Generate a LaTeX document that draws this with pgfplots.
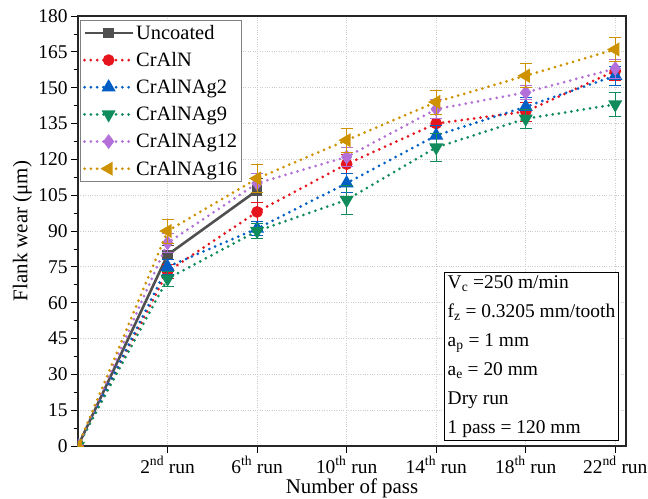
\documentclass[border=0pt]{standalone}
\usepackage{pgfplots}
\pgfplotsset{compat=1.18}
\usepackage{fontspec}
\setmainfont{Liberation Serif}
\definecolor{cunc}{RGB}{80,80,80}
\definecolor{ccraln}{RGB}{230,20,28}
\definecolor{cag2}{RGB}{0,94,196}
\definecolor{cag9}{RGB}{16,140,92}
\definecolor{cag12}{RGB}{178,112,216}
\definecolor{cag16}{RGB}{206,146,0}
\begin{document}
\begin{tikzpicture}
\begin{axis}[
  scale only axis, width=548bp, height=430bp,
  xmin=0, xmax=6.12, ymin=0, ymax=180,
  clip mode=individual, clip marker paths=true,
  xtick={1,2,3,4,5,6},
  xticklabels={2\textsuperscript{nd} run,6\textsuperscript{th} run,10\textsuperscript{th} run,14\textsuperscript{th} run,18\textsuperscript{th} run,22\textsuperscript{nd} run},
  ytick={0,15,...,180},
  minor y tick num=1,
  tick align=outside, tick pos=left,
  major tick length=7bp, minor tick length=4bp,
  every tick/.style={black, line width=0.8pt},
  /pgf/number format/assume math mode=true,
  ticklabel style={font=\fontsize{19.5}{21}\selectfont},
  label style={font=\fontsize{21}{23}\selectfont},
  xlabel={Number of pass}, ylabel={Flank wear (μm)},
  xlabel style={at={(axis description cs:0.5,-0.0977)}, anchor=center},
  ylabel style={at={(axis description cs:-0.1016,0.5)}, anchor=center},
  grid=major, major grid style={dotted, gray!40, line width=0.7pt},
  axis line style={black!85, line width=1.1pt},
  legend cell align=left,
  legend style={font=\fontsize{20.5}{22}\selectfont, draw=gray, line width=0.7pt, at={(0.004,0.99)}, anchor=north west, row sep=7.5bp, inner sep=2.5bp},
  legend image code/.code={\draw[mark repeat=2, mark phase=2, #1] plot coordinates {(0cm,0cm) (0.85cm,0cm) (1.7cm,0cm)};},
  every axis plot/.append style={line width=3bp},
  error bars/y dir=both, error bars/y explicit,
  error bars/error bar style={solid, line width=0.8pt},
  error bars/error mark options={rotate=90, mark size=6bp, line width=0.8pt},
]
\pgfplotsset{dots/.style={dash pattern=on 0pt off 6.3bp, line cap=round}}
\addplot[cunc, solid, line width=2.6bp, mark=square*, mark size=4pt, mark options={solid}] coordinates {(0,0) +- (0,0) (1,80) +- (0,4) (2,107) +- (0,5)};
\addlegendentry{Uncoated}
\addplot[ccraln, dots, mark=*, mark size=4.3pt, mark options={solid}] coordinates {(0,0) +- (0,0) (1,73) +- (0,3) (2,98) +- (0,4) (3,118) +- (0,4) (4,135) +- (0,4) (5,140) +- (0,4) (6,157) +- (0,4)};
\addlegendentry{CrAlN}
\addplot[cag2, dots, mark=triangle*, mark size=5.2pt, mark options={solid}] coordinates {(0,0) +- (0,0) (1,75) +- (0,3) (2,91) +- (0,3) (3,110) +- (0,4) (4,130) +- (0,4) (5,142) +- (0,4) (6,155) +- (0,4)};
\addlegendentry{CrAlNAg2}
\addplot[cag9, dots, mark=triangle*, mark size=5.2pt, mark options={solid, rotate=180}] coordinates {(0,0) +- (0,0) (1,70) +- (0,3) (2,90) +- (0,3) (3,103) +- (0,6) (4,125) +- (0,6) (5,137) +- (0,4) (6,143) +- (0,5)};
\addlegendentry{CrAlNAg9}
\addplot[cag12, dots, mark=diamond*, mark size=5pt, mark options={solid}] coordinates {(0,0) +- (0,0) (1,85) +- (0,4) (2,110) +- (0,4) (3,121) +- (0,4) (4,141) +- (0,4) (5,148) +- (0,3) (6,158) +- (0,4)};
\addlegendentry{CrAlNAg12}
\addplot[cag16, dots, mark=triangle*, mark size=5.2pt, mark options={solid, rotate=90}] coordinates {(0,0) +- (0,0) (1,90) +- (0,5) (2,112) +- (0,6) (3,128) +- (0,5) (4,144) +- (0,5) (5,155) +- (0,5) (6,166) +- (0,5)};
\addlegendentry{CrAlNAg16}
\node[draw=black, line width=1.3pt, fill=white, anchor=south east, align=left, inner sep=3bp,
  font=\fontsize{19.5}{29}\selectfont] at (rel axis cs:0.987,0.012)
  {V\textsubscript{c} =250 m/min\\
   f\textsubscript{z} = 0.3205 mm/tooth\\
   a\textsubscript{p} = 1 mm\\
   a\textsubscript{e} = 20 mm\\
   Dry run\\
   1 pass = 120 mm};
\end{axis}
\pgfresetboundingbox
\path[use as bounding box] ([shift={(-78bp,16bp)}]current axis.north west) rectangle ([shift={(22bp,-53bp)}]current axis.south east);
\end{tikzpicture}
\end{document}
